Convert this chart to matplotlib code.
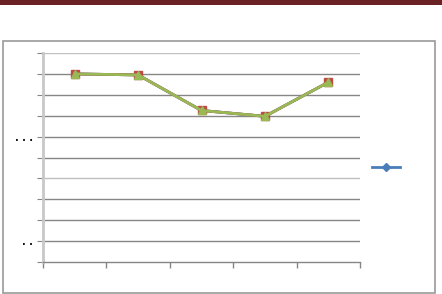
import matplotlib
matplotlib.use("Agg")
import matplotlib.pyplot as plt
from matplotlib.patches import Rectangle

categories = ["1", "2", "3", "4", "5"]
series_a = [9.0, 8.95, 7.25, 6.97, 8.6]
series_b = [9.0, 8.95, 7.25, 6.97, 8.6]
series_c = [9.0, 8.95, 7.25, 6.97, 8.6]
ytick_values = list(range(0, 11))
ytick_labels = ["", ". .", "", "", "", "", ". . .", "", "", "", ""]

W, H = 442, 294
fig = plt.figure(figsize=(W / 100, H / 100), dpi=100)
fig.patch.set_facecolor("white")

# top dark red bar
fig.patches.append(Rectangle((0, (H - 5) / H), 1, 5 / H, transform=fig.transFigure,
                             facecolor="#6B2224", edgecolor="none"))
# outer chart border
fig.patches.append(Rectangle((3 / W, 1 / H), (435 - 3) / W, (293 - 41) / H,
                             transform=fig.transFigure, facecolor="none",
                             edgecolor="#9A9A9A", linewidth=1.2))

ax = fig.add_axes([43 / W, (H - 262) / H, (360 - 43) / W, (262 - 53) / H])
x = list(range(len(categories)))
lb, = ax.plot(x, series_a, color="#4A7EBB", lw=2.0, marker="D", ms=4, zorder=3)
ax.plot(x, series_b, color="#BE4B48", lw=2.0, marker="s", ms=6, zorder=4)
ax.plot(x, series_c, color="#98B954", lw=2.0, marker="^", ms=6, zorder=5)

ax.set_xlim(-0.5, len(categories) - 0.5)
ax.set_ylim(0, 10)
ax.set_yticks(ytick_values)
ax.set_yticklabels(ytick_labels, fontsize=7, fontweight="bold", color="#111111")
ax.tick_params(axis="y", length=4, color="#868686", pad=3)
ax.set_xticks([i - 0.5 for i in range(len(categories) + 1)])
ax.set_xticklabels([])
ax.tick_params(axis="x", length=4, color="#868686", width=1)

for v in ytick_values[1:]:
    c = "#BFBFBF" if v in (4, 10) else "#868686"
    ax.axhline(v, color=c, lw=1, zorder=1)

for s in ["top", "right"]:
    ax.spines[s].set_visible(False)
ax.spines["left"].set_color("#C8C8C8")
ax.spines["left"].set_linewidth(2)
ax.spines["bottom"].set_color("#868686")
ax.spines["bottom"].set_linewidth(1)

leg = fig.legend([lb], [""], loc="center", bbox_to_anchor=(386 / W, (H - 168) / H),
                 frameon=False, handlelength=2.0, handletextpad=0, borderpad=0)

fig.savefig("out.png", dpi=100, facecolor="white")
